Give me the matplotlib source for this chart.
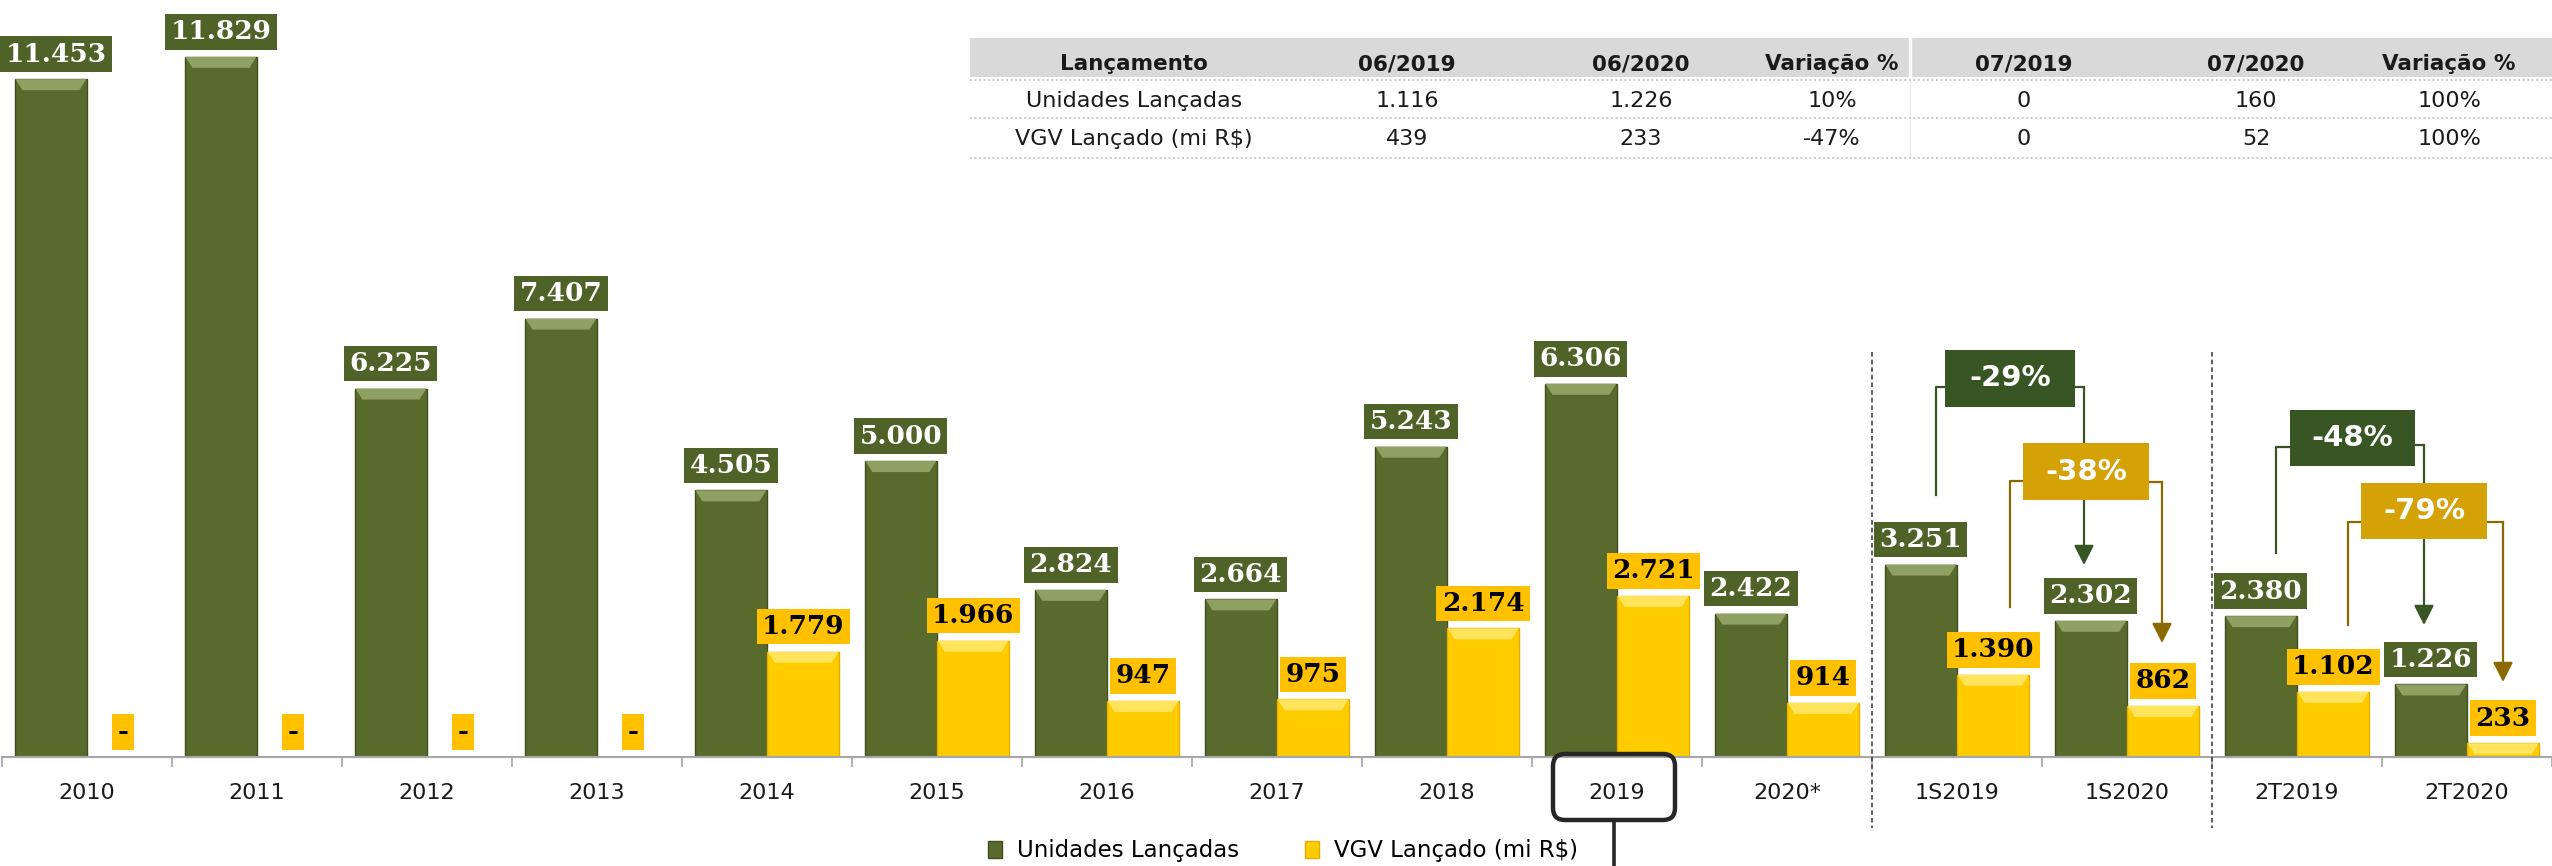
import matplotlib
matplotlib.use("Agg")
import matplotlib.pyplot as plt
from matplotlib.patches import Rectangle, FancyBboxPatch, FancyArrowPatch, Polygon
from matplotlib.lines import Line2D
from matplotlib.transforms import IdentityTransform
import numpy as np

# ---------------- data ----------------
categories = ['2010', '2011', '2012', '2013', '2014', '2015', '2016', '2017',
              '2018', '2019', '2020*', '1S2019', '1S2020', '2T2019', '2T2020']
unidades = [11453, 11829, 6225, 7407, 4505, 5000, 2824, 2664, 5243, 6306,
            2422, 3251, 2302, 2380, 1226]
vgv = [0, 0, 0, 0, 1779, 1966, 947, 975, 2174, 2721, 914, 1390, 862, 1102, 233]
series_names = ['Unidades Lançadas', 'VGV Lançado (mi R$)']

variation_labels = ['-29%', '-38%', '-48%', '-79%']

table_header = ['Lançamento', '06/2019', '06/2020', 'Variação %',
                '07/2019', '07/2020', 'Variação %']
table_rows = [
    ['Unidades Lançadas', '1.116', '1.226', '10%', '0', '160', '100%'],
    ['VGV Lançado (mi R$)', '439', '233', '-47%', '0', '52', '100%'],
]

# ---------------- style ----------------
W, H = 2552, 866
GREEN_BAR = '#586B2C'
GREEN_EDGE = '#3F4E1C'
GREEN_TOP = '#8FA162'
YEL_BAR = '#FFCC00'
YEL_EDGE = '#E2AE00'
YEL_TOP = '#FFE45C'
GREEN_LABEL = '#4F6228'
YEL_LABEL = '#FFC000'
DARK_GREEN = '#375623'
GOLD_BOX = '#D4A106'
GOLD_LINE = '#8A6A00'
IT = IdentityTransform()


def fmt(v):
    return '-' if v == 0 else f'{v:,}'.replace(',', '.')


def py(y):  # pixel-from-top -> display y
    return H - y


fig = plt.figure(figsize=(W / 100, H / 100), dpi=100)
ax = fig.add_axes([2 / W, (H - 757) / H, 2550 / W, 757 / H])

x = np.arange(len(categories))
bw = 0.425
bars_g = ax.bar(x - bw / 2, unidades, bw, color=GREEN_BAR, edgecolor=GREEN_EDGE,
                lw=1, zorder=2, label=series_names[0])
bars_y = ax.bar(x + bw / 2, vgv, bw, color=YEL_BAR, edgecolor=YEL_EDGE,
                lw=1, zorder=2, label=series_names[1])
ax.set_xlim(-0.5, len(categories) - 0.5)
ax.set_ylim(0, 12790)

# bevel highlight at top of bars
data_per_px = 12790 / 757
band = 11 * data_per_px
inset = 7 / 170
for bars, topc in ((bars_g, GREEN_TOP), (bars_y, YEL_TOP)):
    for r in bars:
        h = r.get_height()
        if h <= 0:
            continue
        bh = min(band, h)
        x0, x1 = r.get_x() + 0.004, r.get_x() + r.get_width() - 0.004
        ax.add_patch(Polygon([(x0, h), (x1, h), (x1 - inset, h - bh), (x0 + inset, h - bh)],
                             closed=True, fc=topc, ec='none', zorder=3))

# data labels
labels = []
for bars, vals, fc, tc in ((bars_g, unidades, GREEN_LABEL, 'white'),
                           (bars_y, vgv, YEL_LABEL, 'black')):
    for r, v in zip(bars, vals):
        ann = ax.annotate(fmt(v), xy=(r.get_x() + r.get_width() / 2, v),
                          xytext=(0, 9), textcoords='offset points',
                          ha='center', va='bottom', fontsize=19, fontweight='bold',
                          family='DejaVu Serif', color=tc, zorder=6,
                          bbox=dict(boxstyle='square,pad=0.2', fc=fc, ec='none'),
                          annotation_clip=False)
        labels.append(ann)

# axes styling
for s in ('left', 'top', 'right'):
    ax.spines[s].set_visible(False)
ax.spines['bottom'].set_color('#A6A6A6')
ax.spines['bottom'].set_linewidth(1.5)
ax.set_yticks([])
ax.set_xticks(x)
ax.set_xticklabels(categories, fontsize=16, family='DejaVu Sans', color='#1A1A1A')
ax.tick_params(axis='x', which='major', length=0, pad=19)
ax.set_xticks(np.arange(-0.5, len(categories), 1), minor=True)
ax.tick_params(axis='x', which='minor', length=7, color='#A6A6A6', width=1.2)

# dashed separators
for xb in (10.5, 12.5):
    xp = 2 + (xb + 0.5) * 170
    fig.add_artist(Line2D([xp, xp], [py(352), py(828)], transform=IT,
                          color='#333333', lw=1.1, ls=(0, (3, 2)), zorder=4))

# highlight of 2019 label
fig.add_artist(FancyBboxPatch((1553, py(820)), 122, 66,
                              boxstyle='round,pad=0,rounding_size=12',
                              ec='#262626', fc='none', lw=3.2, transform=IT, zorder=8))
fig.add_artist(Line2D([1614, 1614], [py(820), py(866)], transform=IT,
                      color='#262626', lw=2.6, zorder=8))

# legend
fig.legend(handles=[bars_g, bars_y], labels=series_names, loc='center',
           bbox_to_anchor=(1283 / W, (H - 851) / H), ncol=2, frameon=False,
           fontsize=16.5, handlelength=0.6, handleheight=0.8, handletextpad=0.65,
           columnspacing=2.9, borderpad=0, prop={'family': 'DejaVu Sans', 'size': 16.5})


# ---------------- variation callouts ----------------
def box(x0, y0, x1, y1, fc, text, z):
    fig.add_artist(Rectangle((x0, py(y1)), x1 - x0, y1 - y0, fc=fc, ec='none',
                             transform=IT, zorder=z))
    fig.text((x0 + x1) / 2, py((y0 + y1) / 2), text, transform=IT, ha='center',
             va='center', color='white', fontsize=21, fontweight='bold',
             family='DejaVu Sans', zorder=z + 0.5)


def poly(pts, color, z):
    fig.add_artist(Line2D([p[0] for p in pts], [py(p[1]) for p in pts], transform=IT,
                          color=color, lw=1.6, zorder=z))


def arrow(pts, color, z):
    poly(pts[:-1], color, z)
    a, b = pts[-2], pts[-1]
    fig.add_artist(FancyArrowPatch((a[0], py(a[1])), (b[0], py(b[1])), transform=IT,
                                   arrowstyle='-|>,head_length=0.75,head_width=0.38',
                                   mutation_scale=16, color=color, lw=1.6,
                                   shrinkA=0, shrinkB=0, zorder=z))


# semester comparison
poly([(1945, 387), (1936, 387), (1936, 495)], DARK_GREEN, 9)
arrow([(2075, 387), (2084, 387), (2084, 565)], DARK_GREEN, 9)
box(1945, 350, 2075, 407, DARK_GREEN, variation_labels[0], 10)
poly([(2023, 481), (2010, 481), (2010, 607)], GOLD_LINE, 11)
arrow([(2149, 482), (2162, 482), (2162, 643)], GOLD_LINE, 11)
box(2023, 443, 2149, 500, GOLD_BOX, variation_labels[1], 12)

# quarter comparison
poly([(2290, 447), (2276, 447), (2276, 553)], DARK_GREEN, 9)
arrow([(2415, 445), (2424, 445), (2424, 625)], DARK_GREEN, 9)
box(2290, 410, 2415, 466, DARK_GREEN, variation_labels[2], 10)
poly([(2361, 522), (2348, 522), (2348, 625)], GOLD_LINE, 11)
arrow([(2487, 522), (2503, 522), (2503, 682)], GOLD_LINE, 11)
box(2361, 483, 2487, 539, GOLD_BOX, variation_labels[3], 12)

# ---------------- table ----------------
fig.add_artist(Rectangle((970, py(77)), 2552 - 970, 39, fc='#D9D9D9', ec='none',
                         transform=IT, zorder=1))
fig.add_artist(Line2D([1910, 1910], [py(38), py(77)], transform=IT, color='white',
                      lw=2.5, zorder=2))
fig.add_artist(Line2D([1910, 1910], [py(80), py(158)], transform=IT, color='#EDEDED',
                      lw=1, zorder=2))
for yy in (80, 118, 158):
    fig.add_artist(Line2D([970, 2552], [py(yy), py(yy)], transform=IT, color='#C4C4C4',
                          lw=1.3, ls=(0, (1, 1.5)), zorder=2))
col_x = [1134, 1407, 1641, 1832, 2024, 2256, 2449]
for cx, t in zip(col_x, table_header):
    fig.text(cx, py(70), t, transform=IT, ha='center', va='baseline', fontsize=15.5,
             fontweight='bold', family='DejaVu Sans', color='#1A1A1A', zorder=3)
for row, base in zip(table_rows, (107, 145)):
    for cx, t in zip(col_x, row):
        fig.text(cx, py(base), t, transform=IT, ha='center', va='baseline',
                 fontsize=16, family='DejaVu Sans', color='#1A1A1A', zorder=3)

# keep data labels inside the figure
fig.canvas.draw()
rend = fig.canvas.get_renderer()
for ann in labels:
    bb = ann.get_bbox_patch().get_window_extent(rend)
    if bb.x0 < 0:
        dx = -bb.x0 * 72 / fig.dpi
        ann.xyann = (ann.xyann[0] + dx, ann.xyann[1])

fig.savefig('out.png', dpi=100)
